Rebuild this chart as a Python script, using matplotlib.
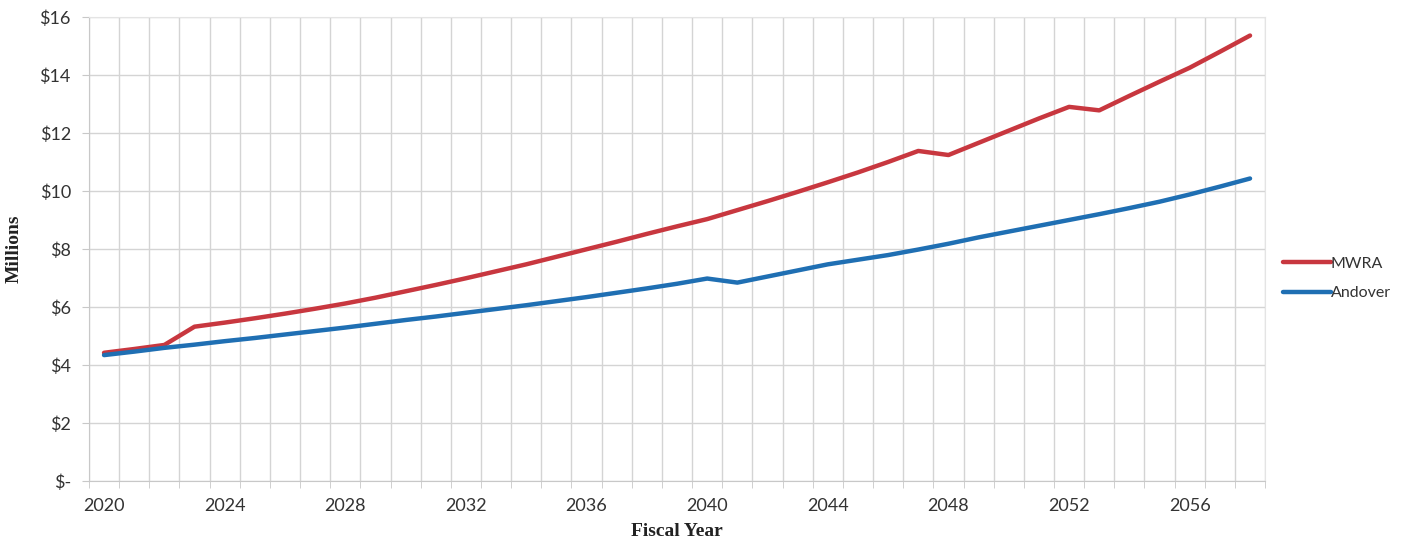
import numpy as np
import matplotlib.pyplot as plt
from matplotlib.ticker import FixedLocator, FuncFormatter

years = list(range(2020, 2059))

mwra = [4.42, 4.55, 4.69, 5.32, 5.46, 5.61, 5.77, 5.94, 6.12, 6.32,
        6.54, 6.76, 6.99, 7.23, 7.47, 7.73, 7.99, 8.25, 8.52, 8.78,
        9.03, 9.34, 9.65, 9.97, 10.30, 10.64, 11.00, 11.38, 11.24, 11.66,
        12.08, 12.50, 12.90, 12.78, 13.28, 13.77, 14.25, 14.80, 15.36]

andover = [4.34, 4.46, 4.59, 4.70, 4.82, 4.93, 5.05, 5.17, 5.29, 5.42,
           5.55, 5.67, 5.80, 5.93, 6.06, 6.20, 6.34, 6.49, 6.64, 6.80,
           6.98, 6.84, 7.05, 7.26, 7.47, 7.63, 7.79, 7.98, 8.18, 8.40,
           8.60, 8.80, 9.00, 9.20, 9.41, 9.63, 9.88, 10.15, 10.43]

label_years = list(range(2020, 2057, 4))
y_ticks = list(range(0, 17, 2))

fig = plt.figure(figsize=(14.01, 5.41), dpi=100)
ax = fig.add_axes([0.0635, 0.111, 0.8395, 0.8576])

ax.plot(years, mwra, color="#c8373f", lw=3.2, label="MWRA", zorder=3,
        solid_capstyle="round")
ax.plot(years, andover, color="#1f6fb3", lw=3.2, label="Andover", zorder=4,
        solid_capstyle="round")

ax.set_xlim(years[0] - 0.5, years[-1] + 0.5)
ax.set_ylim(0, 16)

# category boundaries -> vertical gridlines
bounds = [y - 0.5 for y in years] + [years[-1] + 0.5]
ax.xaxis.set_minor_locator(FixedLocator(bounds))
ax.xaxis.set_major_locator(FixedLocator(label_years))
ax.set_xticklabels([str(y) for y in label_years])
ax.tick_params(axis="x", which="major", length=0, pad=12)
ax.tick_params(axis="x", which="minor", length=5, color="#c8c8c8")

ax.yaxis.set_major_locator(FixedLocator(y_ticks))
ax.yaxis.set_major_formatter(FuncFormatter(lambda v, p: "$-" if v == 0 else f"${int(v)}"))
ax.tick_params(axis="y", length=5, color="#c8c8c8", pad=8)

ax.grid(axis="x", which="minor", color="#d4d4d4", lw=1)
ax.grid(axis="y", which="major", color="#d4d4d4", lw=1)
ax.set_axisbelow(True)

for side in ["top", "right"]:
    ax.spines[side].set_color("#e4e4e4")
for side in ["left", "bottom"]:
    ax.spines[side].set_color("#c8c8c8")

for lab in ax.get_xticklabels() + ax.get_yticklabels():
    lab.set_fontfamily("Lato")
    lab.set_fontsize(13)
    lab.set_color("#333333")

ax.set_ylabel("Millions", fontfamily="Liberation Serif", fontweight="bold",
              fontsize=14, color="#222222", labelpad=12)
ax.set_xlabel("Fiscal Year", fontfamily="Liberation Serif", fontweight="bold",
              fontsize=14, color="#222222", labelpad=7)

leg = fig.legend(loc="center left", bbox_to_anchor=(0.911, 0.485), frameon=False,
                 handlelength=3.0, handletextpad=0.0, labelspacing=0.95,
                 borderaxespad=0.0, prop={"family": "Lato", "size": 11.5})
for t in leg.get_texts():
    t.set_color("#333333")

fig.savefig("out.png", dpi=100)
